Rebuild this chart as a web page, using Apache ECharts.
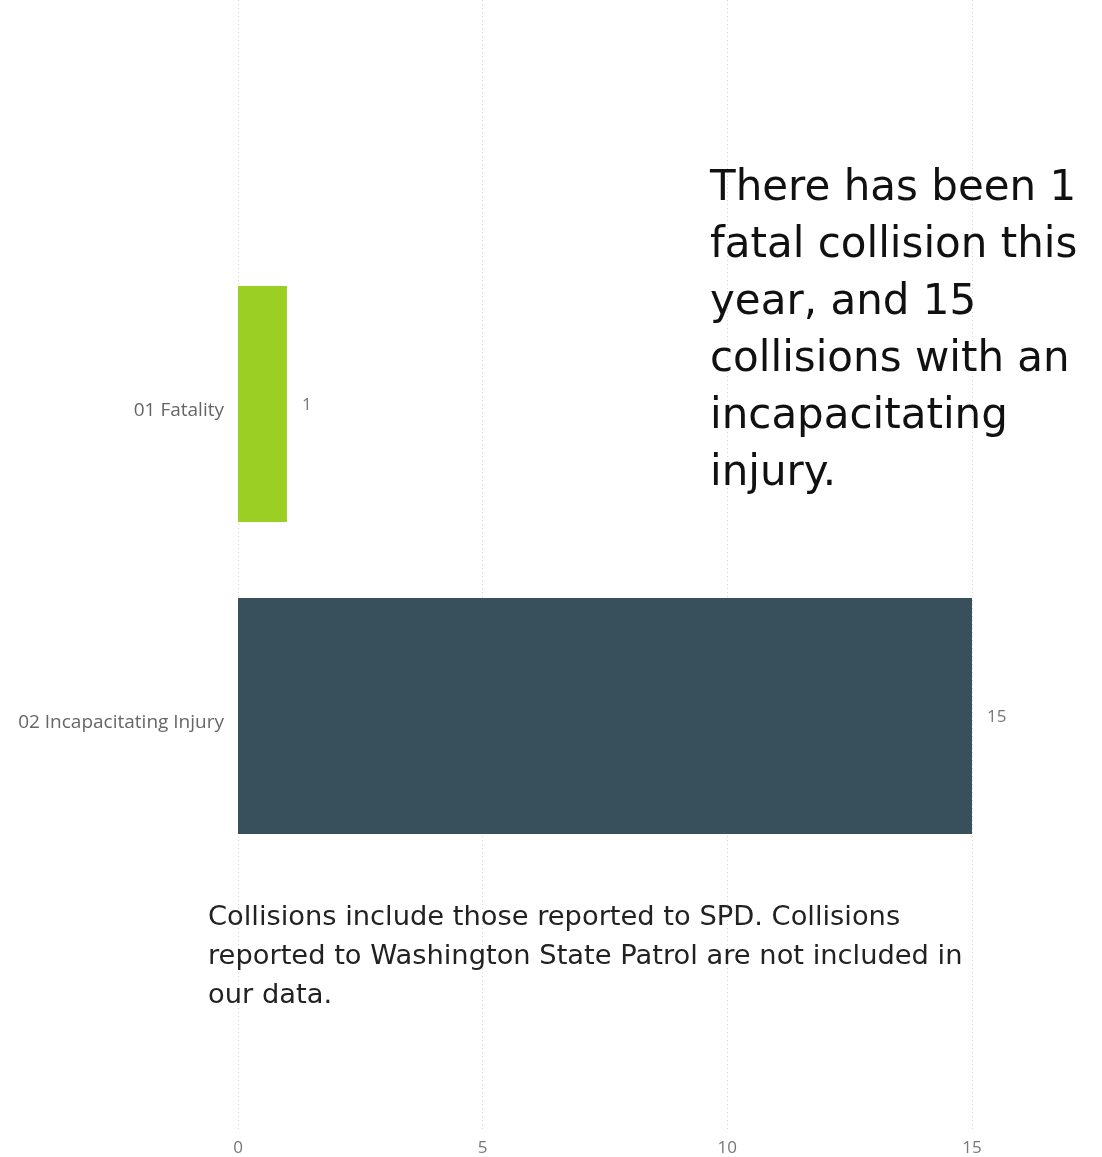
<!DOCTYPE html>
<html><head><meta charset="utf-8">
<script src="https://cdn.jsdelivr.net/npm/echarts@6/dist/echarts.min.js"></script>
<style>html,body{margin:0;padding:0;background:#fff}#c{width:1102px;height:1157px}</style>
</head><body><div id="c"></div>
<script>
const categories = ['01 Fatality', '02 Incapacitating Injury'];
const values = [1, 15];
const barColors = ['#9BCF24', '#37505C'];
const xTicks = [0, 5, 10, 15];
const annotation = 'There has been 1\nfatal collision this\nyear, and 15\ncollisions with an\nincapacitating\ninjury.';
const footnote = 'Collisions include those reported to SPD. Collisions\nreported to Washington State Patrol are not included in\nour data.';

const chart = echarts.init(document.getElementById('c'));
const font = '"Open Sans", "Noto Sans", sans-serif';
chart.setOption({
  animation: false,
  grid: [
    {left: 238, right: 130, top: 248, height: 624},
    {left: 238, right: 130, top: 0, height: 1132}
  ],
  xAxis: [
    {gridIndex: 0, type: 'value', min: xTicks[0], max: xTicks[xTicks.length-1], interval: 5,
     axisLine: {show: false}, axisTick: {show: false}, axisLabel: {show: false}, splitLine: {show: false}},
    {gridIndex: 1, type: 'value', min: xTicks[0], max: xTicks[xTicks.length-1], interval: 5,
     axisLine: {show: false}, axisTick: {show: false},
     axisLabel: {color: '#777', fontSize: 17, fontFamily: font, margin: 8},
     splitLine: {show: true, lineStyle: {color: '#d4d4d4', type: [1, 3], width: 1}}}
  ],
  yAxis: [
    {gridIndex: 0, type: 'category', data: categories, inverse: true,
     axisLine: {show: false}, axisTick: {show: false},
     axisLabel: {margin: 14, formatter: v => '{a|' + v + '}',
       rich: {a: {color: '#666', fontSize: 19, fontFamily: font, padding: [14, 0, 0, 0]}}}},
    {gridIndex: 1, type: 'category', data: categories, show: false}
  ],
  series: [
    {type: 'bar', xAxisIndex: 0, yAxisIndex: 0, barWidth: 236,
     data: values.map((v, i) => ({value: v, itemStyle: {color: barColors[i]}})),
     label: {show: true, position: 'right', distance: 15, color: '#777', fontSize: 17, fontFamily: font, offset: [0, 1]}},
    {type: 'scatter', xAxisIndex: 1, yAxisIndex: 1, data: [], silent: true}
  ],
  graphic: [
    {type: 'text', left: 710, top: 161, z: 10,
     style: {text: annotation, fill: '#111', font: '400 42px "DejaVu Sans", "Open Sans", sans-serif', lineHeight: 57}},
    {type: 'text', left: 208, top: 898, z: 10,
     style: {text: footnote, fill: '#222', font: '400 27.3px "DejaVu Sans", "Noto Sans", sans-serif', lineHeight: 39}}
  ]
});
</script></body></html>
